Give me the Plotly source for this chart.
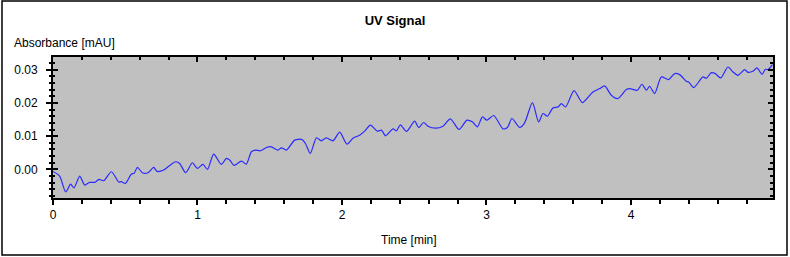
import plotly.graph_objects as go

# Time [min]
time_min = [0.000, 0.046, 0.088, 0.122, 0.145, 0.185, 0.219, 0.254, 0.289, 0.318,
            0.351, 0.404, 0.455, 0.473, 0.501, 0.543, 0.561, 0.584, 0.619, 0.657,
            0.697, 0.720, 0.766, 0.796, 0.849, 0.877, 0.918, 0.965, 0.999, 1.038,
            1.069, 1.112, 1.165, 1.200, 1.223, 1.253, 1.304, 1.338, 1.373, 1.401,
            1.437, 1.477, 1.511, 1.557, 1.581, 1.615, 1.673, 1.723, 1.747, 1.781,
            1.823, 1.857, 1.892, 1.938, 1.984, 2.035, 2.076, 2.122, 2.157, 2.197,
            2.245, 2.273, 2.302, 2.353, 2.376, 2.404, 2.446, 2.503, 2.531, 2.565,
            2.595, 2.648, 2.699, 2.750, 2.810, 2.865, 2.902, 2.937, 2.972, 3.003,
            3.050, 3.114, 3.145, 3.176, 3.230, 3.264, 3.318, 3.361, 3.391, 3.421,
            3.460, 3.495, 3.518, 3.548, 3.606, 3.664, 3.737, 3.783, 3.818, 3.864,
            3.910, 3.968, 3.991, 4.044, 4.076, 4.107, 4.129, 4.164, 4.210, 4.261,
            4.302, 4.337, 4.383, 4.399, 4.434, 4.498, 4.522, 4.556, 4.584, 4.621,
            4.671, 4.706, 4.740, 4.787, 4.810, 4.844, 4.872, 4.907, 4.930, 4.948,
            4.979]

# Absorbance [mAU]
absorbance = [-0.0006, -0.0020, -0.0068, -0.0044, -0.0056, -0.0020, -0.0047, -0.0039, -0.0039, -0.0030,
              -0.0034, -0.0007, -0.0038, -0.0037, -0.0042, -0.0014, -0.0012, 0.0006, -0.0010, -0.0010,
              0.0006, -0.0006, -0.0002, 0.0008, 0.0023, 0.0018, -0.0010, 0.0020, 0.0003, 0.0015,
              0.0000, 0.0046, 0.0015, 0.0033, 0.0028, 0.0012, 0.0025, 0.0016, 0.0053, 0.0058,
              0.0056, 0.0066, 0.0068, 0.0058, 0.0065, 0.0058, 0.0088, 0.0090, 0.0078, 0.0048,
              0.0095, 0.0086, 0.0095, 0.0086, 0.0112, 0.0076, 0.0094, 0.0103, 0.0115, 0.0133,
              0.0115, 0.0118, 0.0101, 0.0122, 0.0116, 0.0134, 0.0114, 0.0145, 0.0126, 0.0141,
              0.0130, 0.0124, 0.0130, 0.0152, 0.0120, 0.0148, 0.0143, 0.0128, 0.0158, 0.0148,
              0.0162, 0.0122, 0.0126, 0.0153, 0.0126, 0.0140, 0.0201, 0.0143, 0.0168, 0.0160,
              0.0185, 0.0188, 0.0198, 0.0188, 0.0237, 0.0201, 0.0233, 0.0243, 0.0251, 0.0223,
              0.0213, 0.0240, 0.0243, 0.0238, 0.0256, 0.0238, 0.0250, 0.0228, 0.0278, 0.0270,
              0.0288, 0.0285, 0.0265, 0.0263, 0.0246, 0.0278, 0.0274, 0.0291, 0.0288, 0.0275,
              0.0308, 0.0293, 0.0283, 0.0300, 0.0292, 0.0295, 0.0305, 0.0286, 0.0301, 0.0300,
              0.0315]

x_ticks = [0, 1, 2, 3, 4]
y_ticks = [0.00, 0.01, 0.02, 0.03]
x_range = [0, 4.983]
y_range = [-0.0086, 0.0338]

FONT = "Liberation Sans, Arial, sans-serif"
W, H = 790, 257
ML, MR, MT, MB = 53, 17, 57, 59
PW, PH = W - ML - MR, H - MT - MB


def px_x(p):
    return (p - ML) / PW


def px_y(p):
    return (H - MB - p) / PH


fig = go.Figure()
fig.add_trace(go.Scatter(x=time_min, y=absorbance, mode="lines",
                         line=dict(color="#2a2aff", width=1.2, shape="spline", smoothing=0.7),
                         hoverinfo="skip", showlegend=False))
# helper traces so the mirrored axes are drawn
fig.add_trace(go.Scatter(x=[None], y=[None], xaxis="x2", yaxis="y2", showlegend=False, hoverinfo="skip"))
fig.add_trace(go.Scatter(x=[None], y=[None], xaxis="x", yaxis="y3", showlegend=False, hoverinfo="skip"))

axis_common = dict(showgrid=False, zeroline=False, showline=True, linecolor="black", linewidth=2,
                   tickcolor="black", tickwidth=1.5)

fig.update_layout(
    width=W, height=H,
    margin=dict(l=ML, r=MR, t=MT, b=MB),
    paper_bgcolor="white",
    plot_bgcolor="#c0c0c0",
    font=dict(family=FONT, size=12, color="black"),
    title=dict(text="<b>UV Signal</b>", x=0.5, xref="container", xanchor="center",
               y=1 - 20 / H, yref="container", yanchor="middle",
               font=dict(family=FONT, size=13, color="black")),
    xaxis=dict(range=x_range, tickvals=x_ticks, ticks="outside", ticklen=5,
               minor=dict(ticks="outside", ticklen=4, dtick=0.2, tickcolor="black", tickwidth=1.5),
               tickfont=dict(size=12), **axis_common),
    xaxis2=dict(range=x_range, overlaying="x", side="top", tickvals=x_ticks, ticks="inside", ticklen=5,
                minor=dict(ticks="inside", ticklen=3, dtick=0.2, tickcolor="black", tickwidth=1.5),
                showticklabels=False, **axis_common),
    yaxis=dict(range=y_range, tickvals=y_ticks, tickformat=".2f", ticks="outside", ticklen=5,
               minor=dict(ticks="outside", ticklen=2, dtick=0.002, tickcolor="black", tickwidth=1.5),
               tickfont=dict(size=12), ticklabelstandoff=6, **axis_common),
    yaxis2=dict(range=y_range, overlaying="y", side="right", tickvals=y_ticks, ticks="inside", ticklen=5,
                minor=dict(ticks="inside", ticklen=3, dtick=0.002, tickcolor="black", tickwidth=1.5),
                showticklabels=False, **axis_common),
    yaxis3=dict(range=y_range, overlaying="y", side="left", tickvals=y_ticks, ticks="inside", ticklen=5,
                minor=dict(ticks="inside", ticklen=2, dtick=0.002, tickcolor="black", tickwidth=1.5),
                showticklabels=False, **axis_common),
    annotations=[
        dict(text="Absorbance [mAU]", xref="paper", yref="paper", x=px_x(12), y=px_y(43),
             xanchor="left", yanchor="middle", showarrow=False, font=dict(family=FONT, size=12)),
        dict(text="Time [min]", xref="paper", yref="paper", x=px_x(409), y=px_y(240),
             xanchor="center", yanchor="middle", showarrow=False, font=dict(family=FONT, size=12)),
    ],
    shapes=[
        dict(type="rect", xref="paper", yref="paper", x0=px_x(2), x1=px_x(787), y0=px_y(255), y1=px_y(1),
             line=dict(color="black", width=1.5), fillcolor="rgba(0,0,0,0)", layer="below"),
    ],
)

fig.write_html("out.html")
